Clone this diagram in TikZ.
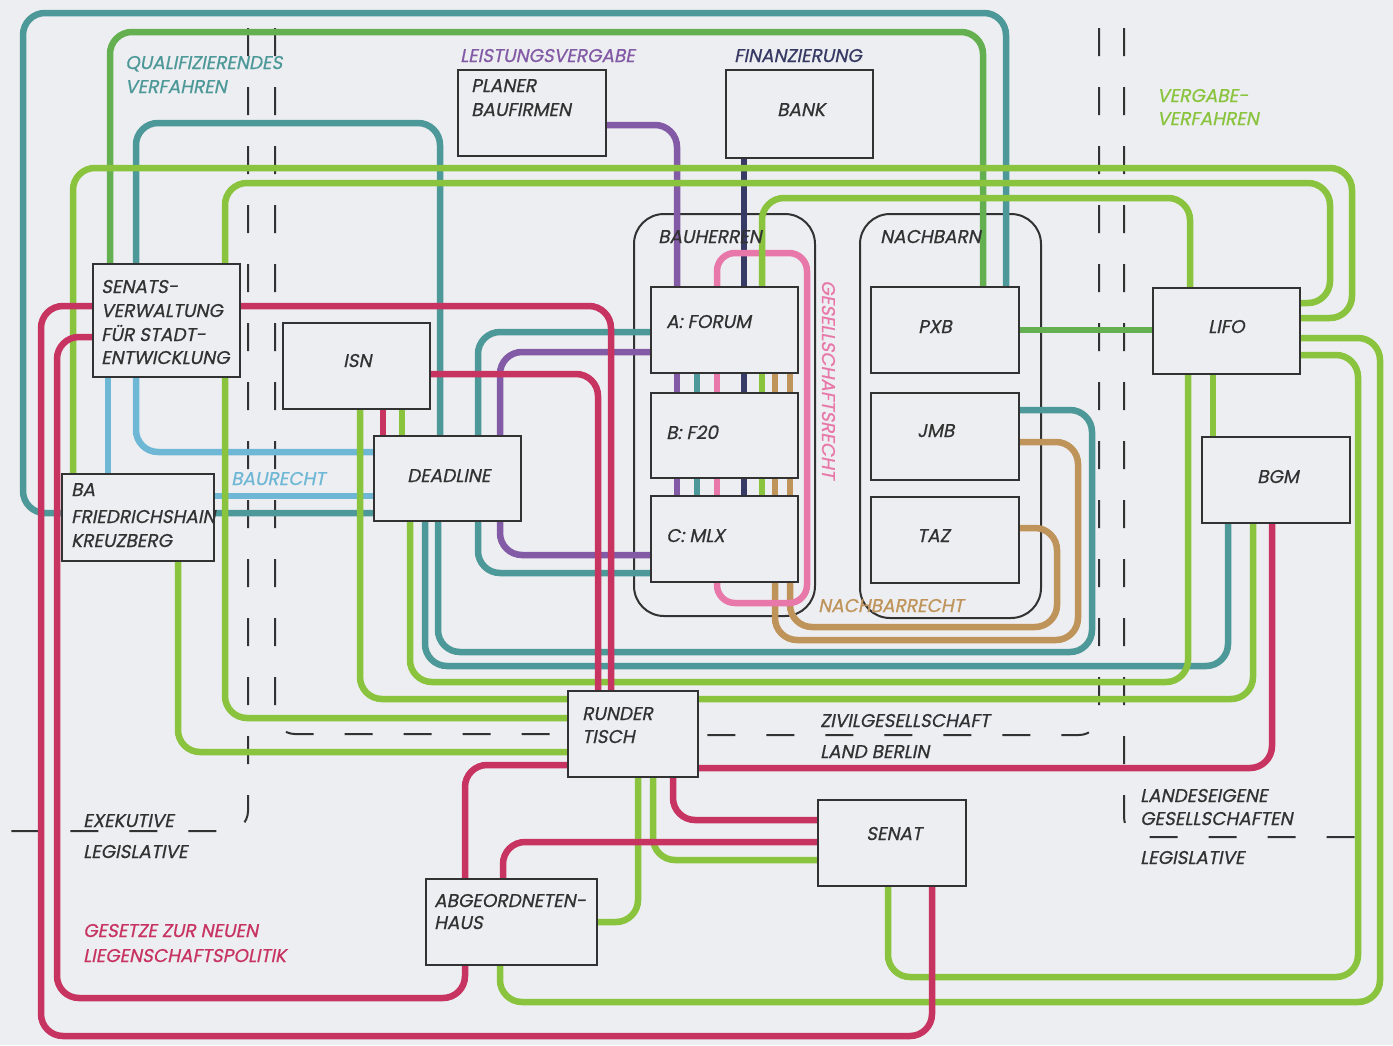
\documentclass[tikz,border=0pt]{standalone}
\usepackage{fontspec}
\setmainfont{Poppins}[FakeSlant=0.2,FakeBold=0.6]
\usetikzlibrary{calc}
\definecolor{cTeal}{RGB}{77,152,152}
\definecolor{cGreen}{RGB}{100,176,80}
\definecolor{cLime}{RGB}{138,196,62}
\definecolor{cRed}{RGB}{200,52,98}
\definecolor{cPink}{RGB}{232,120,170}
\definecolor{cPurple}{RGB}{130,90,165}
\definecolor{cNavy}{RGB}{55,58,100}
\definecolor{cBlue}{RGB}{110,184,214}
\definecolor{cBrown}{RGB}{190,148,90}
\definecolor{cInk}{RGB}{50,50,50}
\definecolor{cBg}{RGB}{237,238,241}
\newcommand\dgfont{\fontsize{18.5}{21}\selectfont}
\begin{document}
\begin{tikzpicture}[x=1pt,y=-1pt,
  ln/.style={line width=6.5pt, rounded corners=22pt},
  stub/.style={line width=6.5pt},
  box/.style={draw=cInk, fill=cBg, line width=2.2pt, inner sep=0pt, outer sep=0pt},
  grp/.style={draw=cInk, line width=2pt, rounded corners=30pt, inner sep=0pt, outer sep=0pt},
  dsh/.style={draw=cInk, line width=2pt, dash pattern=on 28pt off 31pt, rounded corners=20pt},
  lbl/.style={anchor=base west, inner sep=0pt, font=\dgfont, text=cInk},
]
\fill[cBg] (0,0) rectangle (1393,1045);
\path[use as bounding box] (0,0) rectangle (1393,1045);

% groups
\node[grp, minimum width=181pt, minimum height=402pt] (bauh) at (724.5,415) {};
\node[grp, minimum width=181pt, minimum height=404pt] (nach) at (950.5,416) {};

\begin{scope}[every node/.style={inner sep=0pt, outer sep=0pt}]
\node[minimum width=147pt, minimum height=113pt] (senv) at (166.5,320.5) {};
\node[minimum width=147pt, minimum height=86pt] (isn) at (356.5,366) {};
\node[minimum width=147pt, minimum height=85pt] (deadline) at (447.5,478.5) {};
\node[minimum width=152pt, minimum height=87pt] (ba) at (138,517.5) {};
\node[minimum width=148pt, minimum height=86pt] (planer) at (532,113) {};
\node[minimum width=147pt, minimum height=88pt] (bank) at (799.5,114) {};
\node[minimum width=147pt, minimum height=86pt] (forum) at (724.5,330) {};
\node[minimum width=147pt, minimum height=85pt] (f20) at (724.5,435.5) {};
\node[minimum width=147pt, minimum height=86pt] (mlx) at (724.5,539) {};
\node[minimum width=148pt, minimum height=86pt] (pxb) at (945,330) {};
\node[minimum width=148pt, minimum height=87pt] (jmb) at (945,436.5) {};
\node[minimum width=148pt, minimum height=86pt] (taz) at (945,540) {};
\node[minimum width=147pt, minimum height=86pt] (lifo) at (1226.5,331) {};
\node[minimum width=148pt, minimum height=86pt] (bgm) at (1276,480) {};
\node[minimum width=130pt, minimum height=86pt] (tisch) at (633,734) {};
\node[minimum width=148pt, minimum height=86pt] (senat) at (892,843) {};
\node[minimum width=171pt, minimum height=86pt] (abg) at (511.5,922) {};
\end{scope}

% dashed boundaries
\draw[dsh] (248,28) -- (248,831) -- (5,831);
\draw[dsh] (275,28) -- (275,734) -- (tisch.west |- 0,734);
\draw[dsh] (1099,28) -- (1099,735) -- (tisch.east |- 0,735);
\draw[dsh] (1124,28) -- (1124,837) -- (1360,837);

% teal
\draw[ln,cTeal] (deadline.west |- 0,513) -- (23,513) -- (23,13) -- (1006,13) -- (pxb.north -| 1006,0);
\draw[ln,cTeal] (senv.north -| 136,0) -- (136,123) -- (440,123) -- (deadline.north -| 440,0);
\draw[ln,cTeal] (deadline.south -| 438,0) -- (438,652) -- (1092,652) -- (1092,410) -- (jmb.east |- 0,410);
\draw[ln,cTeal] (deadline.south -| 425,0) -- (425,666) -- (1228,666) -- (bgm.south -| 1228,0);
\draw[ln,cTeal] (forum.west |- 0,332) -- (478,332) -- (478,573) -- (mlx.west |- 0,573);
\draw[stub,cTeal] (forum.south -| 697,0) -- (mlx.north -| 697,0);

% light blue
\draw[ln,cBlue] (senv.south -| 108,0) -- (ba.north -| 108,0);
\draw[ln,cBlue] (senv.south -| 136,0) -- (136,452) -- (deadline.west |- 0,452);
\draw[ln,cBlue] (ba.east |- 0,496) -- (deadline.west |- 0,496);

% purple
\draw[ln,cPurple] (planer.east |- 0,125) -- (677,125) -- (forum.north -| 677,0);
\draw[ln,cPurple] (forum.west |- 0,352) -- (500,352) -- (500,555) -- (mlx.west |- 0,555);
\draw[stub,cPurple] (forum.south -| 677,0) -- (mlx.north -| 677,0);

% navy
\draw[ln,cNavy] (bank.south -| 744,0) -- (forum.north -| 744,0);
\draw[stub,cNavy] (forum.south -| 744,0) -- (mlx.north -| 744,0);

% brown
\draw[ln,cBrown] (mlx.south -| 790,0) -- (790,627) -- (1057,627) -- (1057,528) -- (taz.east |- 0,528);
\draw[ln,cBrown] (mlx.south -| 775,0) -- (775,640) -- (1078,640) -- (1078,442) -- (jmb.east |- 0,442);
\draw[stub,cBrown] (forum.south -| 775,0) -- (mlx.north -| 775,0);
\draw[stub,cBrown] (forum.south -| 790,0) -- (mlx.north -| 790,0);

% pink
\draw[ln,cPink,rounded corners=18pt] (forum.north -| 717,0) -- (717,253) -- (807,253) -- (807,603) -- (717,603) -- (mlx.south -| 717,0);
\draw[stub,cPink] (forum.south -| 717,0) -- (mlx.north -| 717,0);

% medium green
\draw[ln,cGreen] (senv.north -| 110,0) -- (110,32) -- (983,32) -- (pxb.north -| 983,0);
\draw[ln,cGreen] (pxb.east |- 0,330) -- (lifo.west |- 0,330);

% lime
\draw[ln,cLime] (ba.north -| 73,0) -- (73,168) -- (1352,168) -- (1352,318) -- (lifo.east |- 0,318);
\draw[ln,cLime] (senv.north -| 225,0) -- (225,183) -- (1330,183) -- (1330,303) -- (lifo.east |- 0,303);
\draw[ln,cLime] (forum.north -| 762,0) -- (762,198) -- (1190,198) -- (lifo.north -| 1190,0);
\draw[stub,cLime] (forum.south -| 762,0) -- (mlx.north -| 762,0);
\draw[ln,cLime] (lifo.south -| 1213,0) -- (bgm.north -| 1213,0);
\draw[ln,cLime] (lifo.south -| 1188,0) -- (1188,682) -- (410,682) -- (deadline.south -| 410,0);
\draw[ln,cLime] (isn.south -| 360,0) -- (360,699) -- (1253,699) -- (bgm.south -| 1253,0);
\draw[ln,cLime] (senv.south -| 225,0) -- (225,718) -- (tisch.west |- 0,718);
\draw[ln,cLime] (ba.south -| 178,0) -- (178,752) -- (tisch.west |- 0,752);
\draw[ln,cLime] (isn.south -| 402,0) -- (deadline.north -| 402,0);
\draw[ln,cLime] (lifo.east |- 0,338) -- (1380,338) -- (1380,1002) -- (500,1002) -- (abg.south -| 500,0);
\draw[ln,cLime] (lifo.east |- 0,355) -- (1358,355) -- (1358,977) -- (888,977) -- (senat.south -| 888,0);
\draw[ln,cLime] (tisch.south -| 638,0) -- (638,922) -- (abg.east |- 0,922);
\draw[ln,cLime] (tisch.south -| 653,0) -- (653,860) -- (senat.west |- 0,860);

% crimson
\draw[ln,cRed] (tisch.north -| 611,0) -- (611,306) -- (41,306) -- (41,1036) -- (932,1036) -- (senat.south -| 932,0);
\draw[ln,cRed] (isn.east |- 0,374) -- (598,374) -- (tisch.north -| 598,0);
\draw[ln,cRed] (isn.south -| 383,0) -- (deadline.north -| 383,0);
\draw[ln,cRed] (tisch.east |- 0,768) -- (1272,768) -- (bgm.south -| 1272,0);
\draw[ln,cRed] (tisch.south -| 673,0) -- (673,820) -- (senat.west |- 0,820);
\draw[ln,cRed] (senat.west |- 0,842) -- (503,842) -- (abg.north -| 503,0);
\draw[ln,cRed] (tisch.west |- 0,765) -- (465,765) -- (465,998) -- (57,998) -- (57,337) -- (senv.west |- 0,337);

% boxes drawn on top
\foreach \n in {senv,isn,deadline,ba,planer,bank,forum,f20,mlx,pxb,jmb,taz,lifo,bgm,tisch,senat,abg}
  \draw[box] (\n.north west) rectangle (\n.south east);

% labels
\node[lbl,text=cTeal] (tq1) at (125,69) {QUALIFIZIERENDES};
\node[lbl,text=cTeal] (tq2) at (125,93) {VERFAHREN};
\node[lbl,text=cPurple] (tleist) at (460,62) {LEISTUNGSVERGABE};
\node[lbl,text=cNavy] (tfin) at (734,62) {FINANZIERUNG};
\node[lbl,text=cLime] (tv1) at (1157,102) {VERGABE-};
\node[lbl,text=cLime] (tv2) at (1157,125) {VERFAHREN};
\node[lbl] (tpl1) at (471,92) {PLANER};
\node[lbl] (tpl2) at (471,116) {BAUFIRMEN};
\node[lbl] (tbank) at (777,116) {BANK};
\node[lbl] (tbauh) at (658,243) {BAUHERREN};
\node[lbl] (tnach) at (880,243) {NACHBARN};
\node[lbl] (tforum) at (666,328) {A: FORUM};
\node[lbl] (tf20) at (666,439) {B: F20};
\node[lbl] (tmlx) at (666,542) {C: MLX};
\node[lbl] (tpxb) at (918,333) {PXB};
\node[lbl] (tjmb) at (917,437) {JMB};
\node[lbl] (ttaz) at (917,542) {TAZ};
\node[lbl] (tlifo) at (1208,333) {LIFO};
\node[lbl] (tbgm) at (1257,483) {BGM};
\node[lbl] (ts1) at (101,293) {SENATS-};
\node[lbl] (ts2) at (101,317) {VERWALTUNG};
\node[lbl] (ts3) at (101,341) {FÜR STADT-};
\node[lbl] (ts4) at (101,364) {ENTWICKLUNG};
\node[lbl] (tisn) at (343,367) {ISN};
\node[lbl] (tba1) at (71,496) {BA};
\node[lbl] (tba2) at (71,523) {FRIEDRICHSHAIN};
\node[lbl] (tba3) at (71,547) {KREUZBERG};
\node[lbl,text=cBlue] (tbaur) at (231,485) {BAURECHT};
\node[lbl] (tdead) at (407,482) {DEADLINE};
\node[lbl,text=cPink,rotate=-90] (tgesr) at (822,280) {GESELLSCHAFTSRECHT};
\node[lbl,text=cBrown] (tnachr) at (818,612) {NACHBARRECHT};
\node[lbl] (tr1) at (582,720) {RUNDER};
\node[lbl] (tr2) at (582,743) {TISCH};
\node[lbl] (tziv) at (820,727) {ZIVILGESELLSCHAFT};
\node[lbl] (tland) at (820,758) {LAND BERLIN};
\node[lbl] (tsenat) at (866,840) {SENAT};
\node[lbl] (tab1) at (434,907) {ABGEORDNETEN-};
\node[lbl] (tab2) at (434,929) {HAUS};
\node[lbl] (tex) at (83,827) {EXEKUTIVE};
\node[lbl] (tleg1) at (83,858) {LEGISLATIVE};
\node[lbl,text=cRed] (tg1) at (83,937) {GESETZE ZUR NEUEN};
\node[lbl,text=cRed] (tg2) at (83,962) {LIEGENSCHAFTSPOLITIK};
\node[lbl] (tl1) at (1140,802) {LANDESEIGENE};
\node[lbl] (tl2) at (1140,825) {GESELLSCHAFTEN};
\node[lbl] (tleg2) at (1140,864) {LEGISLATIVE};
\end{tikzpicture}
\end{document}
